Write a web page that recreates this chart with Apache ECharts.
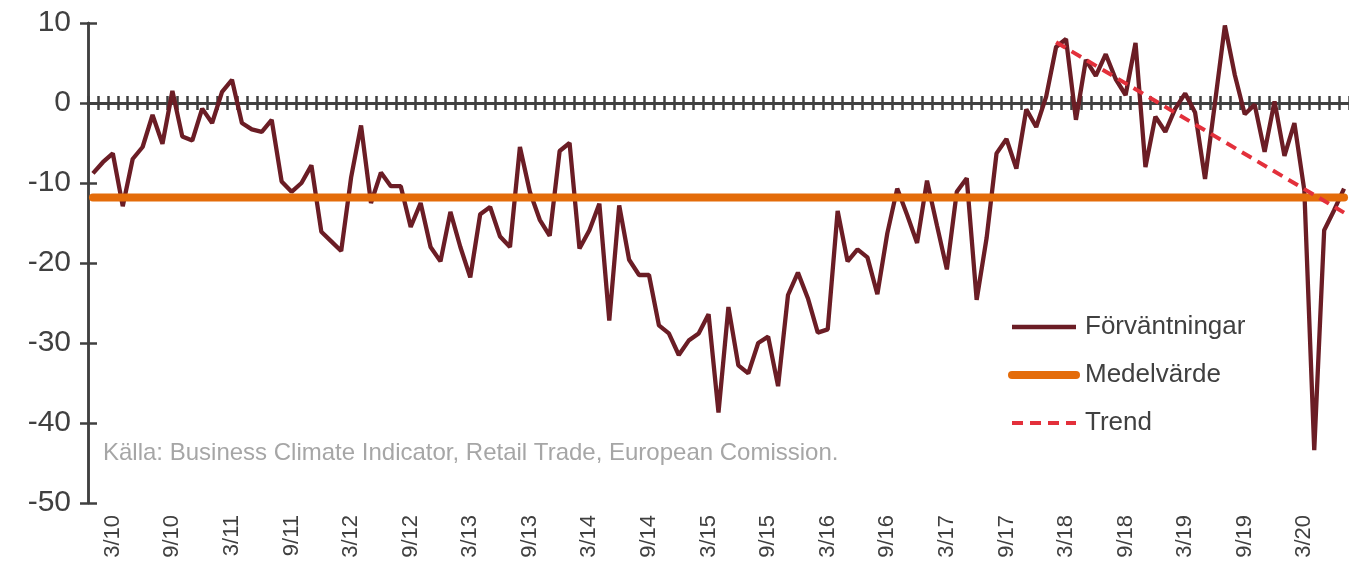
<!DOCTYPE html>
<html><head><meta charset="utf-8">
<script src="https://cdn.jsdelivr.net/npm/echarts@6/dist/echarts.min.js"></script>
<style>html,body{margin:0;padding:0;background:#fff}#c{width:1349px;height:564px}</style>
</head><body><div id="c"></div>
<script>
// Categories: monthly, Jan 2010 .. Jul 2020 (label "M/YY")
const months = [
 '1/10','2/10','3/10','4/10','5/10','6/10','7/10','8/10','9/10','10/10','11/10','12/10',
 '1/11','2/11','3/11','4/11','5/11','6/11','7/11','8/11','9/11','10/11','11/11','12/11',
 '1/12','2/12','3/12','4/12','5/12','6/12','7/12','8/12','9/12','10/12','11/12','12/12',
 '1/13','2/13','3/13','4/13','5/13','6/13','7/13','8/13','9/13','10/13','11/13','12/13',
 '1/14','2/14','3/14','4/14','5/14','6/14','7/14','8/14','9/14','10/14','11/14','12/14',
 '1/15','2/15','3/15','4/15','5/15','6/15','7/15','8/15','9/15','10/15','11/15','12/15',
 '1/16','2/16','3/16','4/16','5/16','6/16','7/16','8/16','9/16','10/16','11/16','12/16',
 '1/17','2/17','3/17','4/17','5/17','6/17','7/17','8/17','9/17','10/17','11/17','12/17',
 '1/18','2/18','3/18','4/18','5/18','6/18','7/18','8/18','9/18','10/18','11/18','12/18',
 '1/19','2/19','3/19','4/19','5/19','6/19','7/19','8/19','9/19','10/19','11/19','12/19',
 '1/20','2/20','3/20','4/20','5/20','6/20','7/20'
];
const forvantningar = [
 -8.8,-7.4,-6.3,-12.9,-7.0,-5.5,-1.5,-5.1,1.5,-4.2,-4.7,-0.7,
 -2.5,1.4,2.9,-2.5,-3.3,-3.6,-2.1,-9.8,-11.1,-10.0,-7.8,-16.1,
 -17.3,-18.5,-9.3,-2.8,-12.5,-8.7,-10.4,-10.4,-15.5,-12.5,-18.0,-19.8,
 -13.6,-18.0,-21.8,-13.9,-13.0,-16.7,-18.0,-5.5,-11.1,-14.6,-16.6,-6.0,
 -5.0,-18.2,-15.9,-12.6,-27.2,-12.8,-19.6,-21.5,-21.5,-27.8,-28.8,-31.5,
 -29.7,-28.8,-26.4,-38.7,-25.5,-32.8,-33.8,-30.0,-29.2,-35.4,-24.0,-21.2,
 -24.4,-28.7,-28.3,-13.5,-19.8,-18.3,-19.3,-23.9,-16.3,-10.7,-14.0,-17.5,
 -9.7,-15.3,-20.8,-11.1,-9.4,-24.6,-16.9,-6.3,-4.5,-8.2,-0.8,-3.0,
 0.8,7.0,8.0,-2.1,5.4,3.4,6.1,3.0,1.0,7.5,-8.0,-1.7,
 -3.6,-0.7,1.2,-1.2,-9.5,0.0,9.7,3.5,-1.4,-0.2,-6.1,0.2,
 -6.6,-2.5,-10.9,-43.4,-15.9,-13.4,-10.7
];
const medelvarde = [['1/10', -11.8], ['7/20', -11.8]];
const trend = [['2/18', 7.6], ['7/20', -13.7]];
const yMin = -50, yMax = 10, yStep = 10;
const seriesNames = ['Förväntningar', 'Medelvärde', 'Trend'];
const sourceText = 'Källa: Business Climate Indicator, Retail Trade, European Comission.';

const FONT = '"Liberation Sans", Arial, sans-serif';
const AX = '#404040';
const chart = echarts.init(document.getElementById('c'), null, {renderer: 'canvas'});
const xBase = {type: 'category', data: months, boundaryGap: true};
const yBase = {type: 'value', min: yMin, max: yMax, interval: yStep, splitLine: {show: false}};
chart.setOption({
  animation: false,
  textStyle: {fontFamily: FONT},
  grid: {left: 88, top: 23, width: 1262, height: 480, containLabel: false},
  xAxis: [
    Object.assign({}, xBase, {
      position: 'bottom',
      axisLine: {show: false, onZero: false},
      axisTick: {show: false},
      axisLabel: {
        rotate: 90, margin: 12, fontSize: 22, color: AX, fontFamily: FONT,
        interval: function (i) { return i >= 2 && (i - 2) % 6 === 0; }
      }
    }),
    Object.assign({}, xBase, {
      position: 'top',
      axisLine: {show: true, onZero: true, lineStyle: {color: AX, width: 3}},
      axisTick: {show: true, interval: 0, length: 7, lineStyle: {color: AX, width: 2.5}},
      axisLabel: {show: false}
    }),
    Object.assign({}, xBase, {
      position: 'top',
      axisLine: {show: true, onZero: true, lineStyle: {color: AX, width: 3}},
      axisTick: {show: true, inside: true, interval: 0, length: 7, lineStyle: {color: AX, width: 2.5}},
      axisLabel: {show: false}
    })
  ],
  yAxis: [
    Object.assign({}, yBase, {
      position: 'left',
      axisLine: {show: true, lineStyle: {color: AX, width: 2.5}},
      axisTick: {show: true, length: 8, lineStyle: {color: AX, width: 2.5}},
      axisLabel: {fontSize: 30, color: AX, margin: 17, fontFamily: FONT}
    }),
    Object.assign({}, yBase, {
      position: 'left',
      axisLine: {show: true, lineStyle: {color: AX, width: 2.5}},
      axisTick: {show: true, inside: true, length: 9, lineStyle: {color: AX, width: 2.5}},
      axisLabel: {show: false}
    })
  ],
  legend: {
    orient: 'vertical', left: 1003, top: 309,
    itemWidth: 64, itemHeight: 14, itemGap: 22,
    data: seriesNames,
    itemStyle: {opacity: 0},
    lineStyle: {width: 'inherit', type: 'inherit', cap: 'inherit'},
    textStyle: {fontSize: 26, color: AX, fontFamily: FONT, lineHeight: 26, padding: [0, 0, 0, 4]}
  },
  graphic: [{
    type: 'text', left: 103, top: 441,
    style: {text: sourceText, fontSize: 24, fill: '#A6A6A6', fontFamily: FONT}
  }],
  series: [
    {name: seriesNames[0], type: 'line', data: forvantningar, xAxisIndex: 0, yAxisIndex: 0,
     symbol: 'none', color: '#6B1D25', lineStyle: {color: '#6B1D25', width: 4.3}},
    {name: seriesNames[1], type: 'line', data: medelvarde, xAxisIndex: 0, yAxisIndex: 0,
     symbol: 'none', color: '#E46C0A', lineStyle: {color: '#E46C0A', width: 8, cap: 'round'}},
    {name: seriesNames[2], type: 'line', data: trend, xAxisIndex: 0, yAxisIndex: 0,
     symbol: 'none', color: '#E3303B', lineStyle: {color: '#E3303B', width: 4, type: [11, 7]}}
  ]
});
</script></body></html>
